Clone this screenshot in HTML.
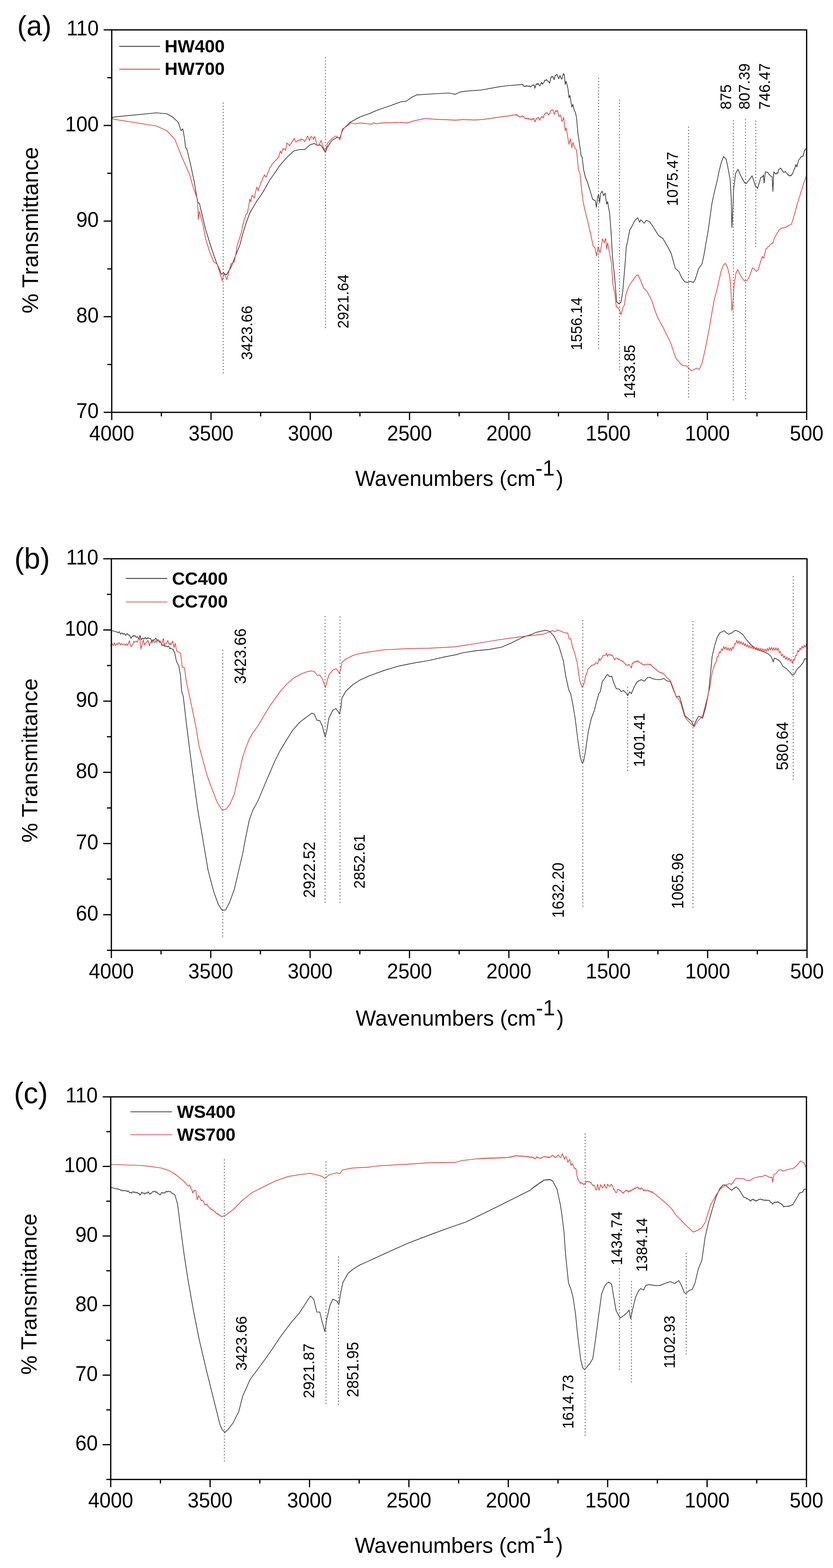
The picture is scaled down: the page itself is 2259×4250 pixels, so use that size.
<!DOCTYPE html><html><head><meta charset="utf-8"><title>FTIR spectra</title><style>html,body{margin:0;padding:0;background:#fff}svg{display:block}text{font-family:'Liberation Sans', Arial, sans-serif}</style></head><body>
<svg width="2259" height="4250" viewBox="0 0 2259 4250">
<rect width="2259" height="4250" fill="#fff"/>
<g><path d="M303.1,318.9 L312.4,316.8 L424.2,305.9 L452.2,308.4 L467.7,316.8 L483.2,331.4 L491.0,354.0 L495.7,349.4 L500.3,374.2 L503.4,400.6 L506.5,402.2 L517.4,448.8 L526.7,492.2 L536.0,548.1 L540.7,551.2 L557.8,622.7 L573.3,672.4 L587.3,712.7 L601.2,743.8 L605.9,739.1 L613.7,745.3 L626.1,725.2 L650.9,663.0 L658.2,634.8 L666.3,607.6 L677.2,577.7 L685.3,564.1 L696.2,545.1 L704.3,534.2 L717.9,512.5 L731.5,488.0 L745.1,469.0 L758.7,448.6 L777.7,426.9 L796.7,409.2 L813.0,405.2 L826.6,405.2 L840.2,392.9 L852.4,388.9 L859.2,393.5 L870.1,393.5 L876.9,403.8 L882.3,413.3 L887.8,398.4 L900.0,380.7 L913.6,372.6 L921.7,373.9 L929.9,350.8 L948.9,331.8 L976.1,316.8 L1000.0,308.7 L1025.6,297.6 L1056.3,287.4 L1086.9,275.9 L1102.3,274.1 L1117.6,263.1 L1130.4,257.2 L1179.0,254.1 L1217.3,252.1 L1225.0,253.6 L1234.0,255.7 L1248.0,249.5 L1263.4,247.0 L1306.8,243.9 L1350.0,235.7 L1375.6,232.4 L1417.8,229.0 L1420.0,233.3 L1421.6,234.1 L1422.3,233.2 L1424.6,234.7 L1426.7,232.9 L1426.9,231.6 L1429.2,234.1 L1431.5,232.7 L1433.8,234.7 L1436.0,232.5 L1436.9,234.1 L1438.3,235.6 L1439.5,235.4 L1440.6,233.6 L1442.9,232.4 L1444.6,230.3 L1445.2,229.9 L1447.5,231.5 L1448.4,230.3 L1449.8,236.2 L1450.2,239.3 L1452.1,234.1 L1453.6,228.5 L1454.4,227.2 L1456.7,229.2 L1459.0,225.7 L1460.0,227.0 L1461.2,230.1 L1463.5,231.7 L1463.8,232.9 L1465.8,229.7 L1468.1,224.4 L1468.9,223.4 L1470.4,227.3 L1471.5,228.5 L1472.7,225.0 L1475.0,223.8 L1477.3,217.2 L1477.8,217.5 L1479.6,218.3 L1481.9,215.7 L1483.0,216.8 L1484.2,219.4 L1486.5,219.4 L1488.8,223.8 L1490.6,225.2 L1491.0,222.9 L1493.3,214.1 L1494.5,208.6 L1495.6,207.3 L1497.9,209.1 L1499.6,207.3 L1500.2,208.2 L1502.5,215.7 L1502.9,215.7 L1504.8,207.7 L1506.0,204.0 L1507.1,204.9 L1509.4,201.7 L1511.1,202.2 L1511.7,205.3 L1514.0,210.4 L1514.9,213.7 L1516.2,211.5 L1518.5,204.4 L1518.8,204.7 L1520.8,210.7 L1523.1,212.8 L1523.4,215.0 L1525.4,209.3 L1527.7,199.6 L1527.7,199.1 L1530.0,202.7 L1530.3,202.2 L1532.8,229.0 L1535.4,220.1 L1540.5,241.8 L1543.0,264.8 L1545.6,258.4 L1550.7,290.4 L1553.3,282.7 L1557.1,298.1 L1559.7,303.2 L1563.5,318.5 L1567.3,362.0 L1570.4,382.4 L1576.3,423.4 L1578.8,425.9 L1582.7,460.0 L1586.7,477.4 L1593.5,495.1 L1600.3,516.8 L1607.1,539.9 L1611.1,542.7 L1614.0,543.0 L1617.4,561.7 L1620.7,533.2 L1623.4,527.7 L1626.1,549.5 L1628.8,525.0 L1632.9,518.2 L1637.0,530.4 L1641.0,523.6 L1645.1,553.5 L1647.8,546.7 L1653.3,579.3 L1657.3,631.0 L1661.3,700.0 L1666.8,751.2 L1672.2,818.0 L1677.6,822.7 L1683.9,819.6 L1688.5,793.2 L1693.2,738.8 L1696.3,700.0 L1698.1,671.7 L1702.2,652.7 L1707.6,624.2 L1713.0,614.7 L1721.2,598.4 L1729.3,590.2 L1734.8,602.4 L1737.5,595.7 L1747.0,605.2 L1752.4,597.0 L1762.0,601.1 L1772.8,617.4 L1786.4,639.1 L1797.3,645.9 L1810.9,669.0 L1820.4,688.0 L1831.3,727.4 L1840.8,735.6 L1848.9,753.3 L1857.1,764.1 L1865.2,765.5 L1872.0,762.8 L1880.2,765.5 L1885.3,757.6 L1894.5,728.5 L1903.8,715.3 L1909.0,691.5 L1914.3,659.9 L1920.9,622.9 L1930.2,554.3 L1936.8,522.6 L1944.7,490.9 L1950.0,464.5 L1956.6,438.1 L1962.4,424.4 L1969.2,431.5 L1975.0,459.2 L1980.3,488.3 L1983.0,538.4 L1984.8,616.3 L1986.9,578.0 L1989.6,512.0 L1994.9,469.8 L2001.5,459.2 L2009.4,477.7 L2019.9,496.2 L2023.9,497.5 L2033.1,485.6 L2039.7,476.4 L2047.7,501.5 L2054.3,510.7 L2063.5,480.3 L2068.8,479.0 L2070.1,473.7 L2072.2,496.2 L2075.4,465.8 L2082.0,467.1 L2088.6,476.4 L2093.9,479.0 L2096.0,518.6 L2098.6,465.8 L2100.0,468.5 L2102.3,469.4 L2103.1,471.1 L2104.6,471.9 L2106.9,468.1 L2109.2,470.1 L2109.7,468.4 L2111.0,460.5 L2111.5,459.3 L2113.8,459.1 L2116.1,455.6 L2117.6,456.0 L2118.4,457.9 L2120.7,460.7 L2123.0,465.9 L2124.2,467.1 L2125.3,466.1 L2127.6,466.7 L2129.5,464.5 L2129.9,464.4 L2132.2,468.9 L2134.5,470.1 L2136.8,474.7 L2137.4,475.0 L2139.1,473.8 L2141.4,477.3 L2143.6,475.1 L2144.0,476.4 L2145.9,476.0 L2148.2,471.0 L2149.3,471.1 L2150.5,468.5 L2152.8,460.7 L2154.6,457.9 L2155.1,457.3 L2157.4,447.9 L2158.5,446.0 L2159.7,450.6 L2161.2,452.6 L2162.0,448.5 L2164.3,439.9 L2165.1,435.4 L2166.6,433.0 L2168.9,431.5 L2171.2,425.9 L2173.1,424.9 L2173.5,425.6 L2175.8,422.9 L2178.1,423.4 L2178.4,422.2 L2180.4,412.9 L2182.3,406.4 L2182.7,407.3 L2185.0,403.5 L2186.3,404.3" fill="none" stroke="#353535" stroke-width="1.9" stroke-linejoin="round" stroke-linecap="round"/><path d="M303.1,320.8 L307.8,323.0 L424.2,341.6 L452.2,354.0 L473.9,377.3 L492.5,423.9 L514.3,473.6 L522.0,501.6 L528.3,520.2 L536.0,541.9 L537.6,594.7 L540.7,573.0 L550.0,607.1 L557.8,647.5 L567.1,678.6 L579.5,709.6 L588.8,715.8 L602.8,760.9 L607.5,740.7 L615.2,757.8 L626.1,715.8 L635.4,709.6 L640.0,685.9 L642.5,669.8 L644.7,659.9 L645.0,660.0 L647.5,651.2 L650.0,645.7 L650.0,647.4 L652.5,635.2 L655.0,629.9 L655.4,626.6 L657.5,614.5 L659.5,604.9 L660.0,605.2 L662.5,593.8 L665.0,589.2 L666.3,583.2 L667.5,580.5 L670.0,578.9 L671.7,575.0 L672.5,568.6 L675.0,555.6 L677.2,539.7 L677.5,539.9 L679.9,546.5 L680.0,547.0 L682.5,534.6 L684.0,528.8 L685.0,531.2 L687.5,533.6 L689.4,537.0 L690.0,535.0 L692.5,522.7 L695.0,513.6 L696.2,507.1 L697.5,508.7 L700.0,517.3 L700.3,516.6 L702.5,508.4 L705.0,503.9 L707.5,494.3 L708.4,493.5 L710.0,491.7 L712.5,482.5 L715.0,479.6 L716.6,474.5 L717.5,474.2 L720.0,479.3 L722.0,479.9 L722.5,477.4 L725.0,473.8 L727.5,465.2 L730.0,460.6 L731.5,455.4 L732.5,453.4 L735.0,451.5 L737.5,444.7 L739.7,443.2 L740.0,443.5 L742.5,439.0 L745.0,438.2 L747.5,434.0 L750.0,433.3 L752.5,428.7 L755.0,427.8 L756.0,425.5 L757.5,417.9 L760.0,411.2 L760.1,409.2 L762.5,413.6 L762.8,416.0 L765.0,410.6 L766.8,403.8 L767.5,402.3 L770.0,405.5 L772.5,403.8 L775.0,406.5 L775.0,407.5 L777.5,388.1 L777.7,387.5 L780.0,390.2 L782.5,390.6 L785.0,395.3 L785.9,394.3 L787.5,391.1 L790.0,388.8 L792.5,382.6 L795.0,381.8 L797.5,375.1 L798.1,375.3 L800.0,381.2 L802.2,384.8 L802.5,384.0 L805.0,384.3 L807.5,380.2 L810.0,381.8 L812.5,378.1 L813.0,379.3 L815.0,380.1 L817.5,376.5 L818.5,376.6 L820.0,378.5 L822.5,378.5 L825.0,382.9 L826.6,383.4 L827.5,380.6 L830.0,377.8 L832.5,371.8 L834.8,368.5 L835.0,370.9 L837.5,375.4 L838.9,380.7 L840.0,379.3 L842.5,371.7 L844.3,369.8 L845.0,371.6 L847.5,372.4 L849.7,376.6 L850.0,377.8 L852.5,371.4 L853.8,369.8 L855.0,375.9 L857.5,384.4 L859.2,392.9 L860.0,394.4 L866.0,391.6 L870.7,380.7 L875.5,395.7 L882.3,412.0 L887.8,388.9 L897.3,378.0 L910.9,368.5 L919.0,373.9 L921.7,379.3 L928.5,349.5 L938.0,344.0 L951.6,333.2 L962.5,335.9 L976.1,333.2 L989.7,334.5 L1000.0,335.9 L1000.0,336.2 L1002.5,335.6 L1005.0,337.1 L1007.5,335.7 L1008.9,336.5 L1010.0,336.2 L1012.5,333.4 L1014.1,332.9 L1015.0,334.1 L1017.5,333.6 L1020.0,335.8 L1020.5,335.5 L1022.5,334.6 L1025.0,335.2 L1027.5,334.2 L1030.0,334.6 L1032.5,333.2 L1035.0,334.2 L1037.5,332.4 L1038.4,332.9 L1040.0,333.7 L1042.5,332.0 L1045.0,333.6 L1047.5,332.4 L1050.0,333.5 L1052.5,332.1 L1055.0,333.0 L1057.5,331.7 L1060.0,333.3 L1062.5,332.1 L1065.0,333.0 L1067.5,331.9 L1070.0,333.1 L1072.5,331.5 L1075.0,332.5 L1077.5,331.6 L1080.0,332.4 L1082.5,331.7 L1085.0,332.8 L1086.9,331.9 L1087.5,331.1 L1090.0,332.9 L1092.5,331.9 L1095.0,333.0 L1097.5,332.1 L1100.0,333.7 L1102.5,332.4 L1104.8,333.4 L1105.0,334.0 L1107.5,331.8 L1110.0,332.3 L1112.5,330.1 L1115.0,330.4 L1115.1,329.6 L1117.5,328.5 L1120.0,329.0 L1122.5,327.3 L1125.0,327.5 L1127.5,325.8 L1127.8,326.3 L1130.0,326.4 L1132.5,324.9 L1135.0,325.2 L1137.5,323.7 L1140.0,324.4 L1140.6,323.7 L1142.5,322.8 L1145.0,323.6 L1147.5,321.3 L1150.0,322.2 L1152.1,321.1 L1152.5,320.5 L1155.0,322.0 L1157.5,321.1 L1160.0,322.2 L1162.5,321.1 L1165.0,322.8 L1167.5,321.9 L1170.0,323.0 L1172.5,322.2 L1175.0,323.3 L1177.5,322.5 L1179.0,323.2 L1180.0,324.0 L1182.5,322.9 L1185.0,324.1 L1187.5,323.2 L1190.0,324.4 L1192.5,323.3 L1195.0,324.5 L1197.5,323.3 L1200.0,324.8 L1202.5,323.8 L1205.0,324.7 L1207.5,323.8 L1210.0,324.9 L1212.5,323.9 L1215.0,325.2 L1217.5,324.3 L1220.0,325.5 L1222.5,324.3 L1225.0,326.1 L1227.5,324.5 L1230.0,326.4 L1232.5,325.0 L1235.0,326.4 L1235.2,325.7 L1237.5,325.2 L1240.0,325.8 L1242.5,324.4 L1245.0,325.8 L1247.5,324.0 L1250.0,325.1 L1252.5,323.6 L1255.0,324.7 L1255.7,324.2 L1257.5,323.4 L1260.0,324.7 L1262.5,323.9 L1265.0,325.0 L1267.5,324.2 L1270.0,325.4 L1272.5,324.2 L1275.0,325.1 L1277.5,324.1 L1280.0,325.7 L1282.5,324.5 L1285.0,325.8 L1287.5,324.7 L1288.9,325.2 L1290.0,325.7 L1292.5,324.4 L1295.0,325.3 L1297.5,324.1 L1300.0,325.0 L1302.5,323.8 L1305.0,324.2 L1307.5,323.2 L1310.0,324.0 L1312.5,322.9 L1315.0,323.9 L1317.5,322.1 L1319.6,322.7 L1320.0,323.0 L1322.5,321.5 L1325.0,322.7 L1327.5,320.9 L1330.0,321.5 L1332.5,320.2 L1335.0,320.7 L1337.5,319.4 L1340.0,320.4 L1342.5,318.5 L1345.0,319.4 L1347.5,318.1 L1350.0,318.1 L1350.0,318.5 L1352.5,317.1 L1355.0,317.8 L1357.5,316.7 L1360.0,317.3 L1362.5,315.8 L1365.0,316.6 L1367.5,315.2 L1370.0,315.7 L1372.5,314.4 L1375.0,315.1 L1377.5,313.8 L1380.0,314.7 L1382.5,313.0 L1385.0,314.0 L1387.5,312.0 L1390.0,312.9 L1392.5,311.4 L1395.0,312.3 L1397.5,311.0 L1400.0,311.6 L1400.0,313.0 L1401.1,310.9 L1402.3,310.5 L1404.6,314.8 L1406.8,314.4 L1409.1,317.0 L1410.1,317.2 L1411.4,316.1 L1413.7,317.2 L1416.0,313.5 L1417.8,314.7 L1418.2,316.9 L1420.5,316.3 L1422.8,320.5 L1424.2,321.1 L1425.1,320.3 L1427.4,322.5 L1429.6,319.8 L1431.9,323.3 L1434.2,320.1 L1434.4,321.6 L1436.5,323.5 L1438.8,322.5 L1439.5,324.9 L1441.1,325.5 L1443.3,321.8 L1445.6,323.8 L1447.2,321.1 L1447.9,321.1 L1450.2,329.1 L1451.0,330.0 L1452.5,324.9 L1454.7,322.9 L1454.8,321.1 L1457.0,319.4 L1459.3,320.5 L1460.0,318.5 L1461.6,320.6 L1463.8,325.7 L1463.9,326.2 L1466.1,319.7 L1468.4,317.5 L1468.9,315.5 L1470.7,316.5 L1472.7,319.8 L1473.0,320.1 L1475.3,312.2 L1477.5,309.6 L1477.8,307.8 L1479.8,305.9 L1482.1,307.4 L1484.2,305.7 L1484.4,305.1 L1486.7,310.3 L1488.1,312.1 L1488.9,308.8 L1491.2,308.0 L1493.5,300.6 L1495.7,298.1 L1495.8,299.3 L1498.1,297.6 L1499.6,298.6 L1500.4,301.8 L1502.6,308.2 L1502.9,310.3 L1504.9,305.7 L1506.0,300.6 L1507.2,299.6 L1509.5,303.2 L1509.8,301.9 L1511.8,299.3 L1512.4,300.6 L1514.0,309.0 L1515.7,316.5 L1516.3,314.1 L1518.6,314.5 L1520.0,312.1 L1520.9,314.3 L1523.2,326.4 L1524.4,330.0 L1525.4,326.3 L1527.7,322.3 L1528.5,318.5 L1530.0,329.3 L1532.8,354.3 L1535.4,346.7 L1543.0,391.4 L1546.9,376.1 L1550.7,400.3 L1553.8,386.3 L1558.4,400.3 L1563.5,406.7 L1568.6,460.0 L1569.0,459.8 L1573.1,472.0 L1577.2,514.1 L1581.3,546.7 L1586.7,571.2 L1593.5,598.4 L1601.6,633.7 L1608.4,666.3 L1613.0,671.0 L1617.9,693.5 L1622.0,669.0 L1627.4,685.3 L1634.2,647.3 L1638.3,658.2 L1642.4,645.9 L1645.1,674.5 L1647.8,658.2 L1653.3,688.0 L1658.2,712.4 L1662.1,769.9 L1666.8,793.2 L1671.4,832.0 L1674.5,832.0 L1680.7,841.3 L1683.9,853.0 L1690.0,832.0 L1693.2,827.3 L1697.0,800.9 L1700.9,787.7 L1707.1,773.0 L1713.4,763.7 L1719.6,755.1 L1725.8,746.6 L1730.4,745.0 L1734.3,754.3 L1736.6,758.2 L1746.0,782.3 L1753.7,788.5 L1767.7,814.9 L1777.0,844.4 L1786.3,866.1 L1798.8,888.7 L1808.2,908.2 L1819.0,929.9 L1832.6,970.7 L1848.9,989.7 L1862.5,992.4 L1874.7,1004.6 L1881.5,1001.9 L1889.2,997.8 L1895.8,1001.8 L1903.8,984.6 L1911.7,950.3 L1922.2,897.5 L1930.2,850.0 L1936.8,813.0 L1944.7,784.0 L1955.2,736.4 L1961.8,718.0 L1967.1,714.0 L1972.4,723.2 L1979.0,749.6 L1981.7,776.0 L1984.8,842.0 L1986.9,828.8 L1990.9,770.8 L1996.2,739.1 L2000.9,731.1 L2009.4,749.6 L2018.6,761.5 L2026.5,760.2 L2034.5,744.4 L2040.5,725.9 L2045.0,728.5 L2051.1,735.9 L2056.4,731.1 L2060.0,719.1 L2062.2,710.0 L2062.5,708.8 L2065.0,702.8 L2067.5,694.9 L2067.5,695.5 L2070.0,699.1 L2071.4,699.5 L2072.5,693.5 L2075.0,683.9 L2076.7,675.7 L2077.5,674.3 L2080.0,672.9 L2082.5,669.1 L2085.0,668.6 L2087.5,663.9 L2088.6,663.8 L2090.0,663.0 L2092.5,659.5 L2095.0,659.7 L2096.5,657.2 L2097.5,653.3 L2100.0,646.4 L2100.5,644.0 L2102.5,640.1 L2105.0,637.0 L2107.5,631.8 L2110.0,628.7 L2112.3,624.2 L2112.5,623.4 L2115.0,622.7 L2117.5,619.1 L2118.9,618.9 L2120.0,619.2 L2122.5,617.5 L2125.0,618.0 L2127.5,615.8 L2130.0,616.6 L2132.1,615.0 L2132.5,614.3 L2135.0,614.4 L2137.5,611.3 L2140.0,611.2 L2142.5,608.9 L2145.0,608.7 L2146.7,607.1 L2147.5,603.5 L2150.0,596.8 L2152.5,586.5 L2154.6,580.7 L2155.0,580.4 L2157.5,569.2 L2160.0,561.4 L2162.5,550.8 L2162.5,551.6 L2165.0,544.5 L2167.5,534.5 L2169.1,530.5 L2170.0,528.2 L2172.5,518.5 L2175.0,512.6 L2177.5,502.6 L2179.7,496.2 L2180.0,495.8 L2186.3,477.7" fill="none" stroke="#df4040" stroke-width="1.9" stroke-linejoin="round" stroke-linecap="round"/><line x1="605.3" y1="278" x2="605.3" y2="1013" stroke="#4e4e4e" stroke-width="2.3" stroke-dasharray="2.8 5.70"/><line x1="882.5" y1="155.5" x2="882.5" y2="891" stroke="#4e4e4e" stroke-width="2.3" stroke-dasharray="2.8 5.70"/><line x1="1623.2" y1="211" x2="1623.2" y2="945" stroke="#4e4e4e" stroke-width="2.3" stroke-dasharray="2.8 5.70"/><line x1="1680" y1="270" x2="1680" y2="1003" stroke="#4e4e4e" stroke-width="2.3" stroke-dasharray="2.8 5.70"/><line x1="1867.2" y1="343.5" x2="1867.2" y2="1078" stroke="#4e4e4e" stroke-width="2.3" stroke-dasharray="2.8 5.70"/><line x1="1988.7" y1="325.8" x2="1988.7" y2="1085" stroke="#4e4e4e" stroke-width="2.3" stroke-dasharray="2.8 5.70"/><line x1="2021.8" y1="323" x2="2021.8" y2="1082" stroke="#4e4e4e" stroke-width="2.3" stroke-dasharray="2.8 5.70"/><line x1="2049.5" y1="326.7" x2="2049.5" y2="669" stroke="#4e4e4e" stroke-width="2.3" stroke-dasharray="2.8 5.70"/><text transform="translate(684.0,975.2) rotate(-90) scale(1,1.05)" font-size="40.6">3423.66</text><text transform="translate(944.9,890.3) rotate(-90) scale(1,1.05)" font-size="40.5">2921.64</text><text transform="translate(1577.8,949.3) rotate(-90) scale(1,1.05)" font-size="39.6">1556.14</text><text transform="translate(1722.2,1080.4) rotate(-90) scale(1,1.05)" font-size="40.4">1433.85</text><text transform="translate(1837.8,558.2) rotate(-90) scale(1,1.05)" font-size="40.6">1075.47</text><text transform="translate(1983.0,296.7) rotate(-90) scale(1,1.05)" font-size="40.6">875</text><text transform="translate(2033.4,296.7) rotate(-90) scale(1,1.05)" font-size="40.9">807.39</text><text transform="translate(2088.3,297.0) rotate(-90) scale(1,1.05)" font-size="41.1">746.47</text><rect x="303.0" y="81.0" width="1884.5" height="1036.6" fill="none" stroke="#000" stroke-width="3.4"/><line x1="303.0" y1="1117.6" x2="303.0" y2="1138.6" stroke="#000" stroke-width="3.3"/><text transform="translate(303.0,1193.8) scale(1,1.05)" font-size="54.8" text-anchor="middle">4000</text><line x1="437.6" y1="1117.6" x2="437.6" y2="1128.6" stroke="#000" stroke-width="3.3"/><line x1="572.2" y1="1117.6" x2="572.2" y2="1138.6" stroke="#000" stroke-width="3.3"/><text transform="translate(572.2,1193.8) scale(1,1.05)" font-size="54.8" text-anchor="middle">3500</text><line x1="706.8" y1="1117.6" x2="706.8" y2="1128.6" stroke="#000" stroke-width="3.3"/><line x1="841.4" y1="1117.6" x2="841.4" y2="1138.6" stroke="#000" stroke-width="3.3"/><text transform="translate(841.4,1193.8) scale(1,1.05)" font-size="54.8" text-anchor="middle">3000</text><line x1="976.0" y1="1117.6" x2="976.0" y2="1128.6" stroke="#000" stroke-width="3.3"/><line x1="1110.6" y1="1117.6" x2="1110.6" y2="1138.6" stroke="#000" stroke-width="3.3"/><text transform="translate(1110.6,1193.8) scale(1,1.05)" font-size="54.8" text-anchor="middle">2500</text><line x1="1245.2" y1="1117.6" x2="1245.2" y2="1128.6" stroke="#000" stroke-width="3.3"/><line x1="1379.9" y1="1117.6" x2="1379.9" y2="1138.6" stroke="#000" stroke-width="3.3"/><text transform="translate(1379.9,1193.8) scale(1,1.05)" font-size="54.8" text-anchor="middle">2000</text><line x1="1514.5" y1="1117.6" x2="1514.5" y2="1128.6" stroke="#000" stroke-width="3.3"/><line x1="1649.1" y1="1117.6" x2="1649.1" y2="1138.6" stroke="#000" stroke-width="3.3"/><text transform="translate(1649.1,1193.8) scale(1,1.05)" font-size="54.8" text-anchor="middle">1500</text><line x1="1783.7" y1="1117.6" x2="1783.7" y2="1128.6" stroke="#000" stroke-width="3.3"/><line x1="1918.3" y1="1117.6" x2="1918.3" y2="1138.6" stroke="#000" stroke-width="3.3"/><text transform="translate(1918.3,1193.8) scale(1,1.05)" font-size="54.8" text-anchor="middle">1000</text><line x1="2052.9" y1="1117.6" x2="2052.9" y2="1128.6" stroke="#000" stroke-width="3.3"/><line x1="2187.5" y1="1117.6" x2="2187.5" y2="1138.6" stroke="#000" stroke-width="3.3"/><text transform="translate(2187.5,1193.8) scale(1,1.05)" font-size="54.8" text-anchor="middle">500</text><line x1="281.0" y1="1117.6" x2="303.0" y2="1117.6" stroke="#000" stroke-width="3.3"/><text transform="translate(267.8,1133.0) scale(1,1.05)" font-size="54.8" text-anchor="end">70</text><line x1="281.0" y1="858.4" x2="303.0" y2="858.4" stroke="#000" stroke-width="3.3"/><text transform="translate(267.8,873.8) scale(1,1.05)" font-size="54.8" text-anchor="end">80</text><line x1="281.0" y1="599.3" x2="303.0" y2="599.3" stroke="#000" stroke-width="3.3"/><text transform="translate(267.8,614.7) scale(1,1.05)" font-size="54.8" text-anchor="end">90</text><line x1="281.0" y1="340.1" x2="303.0" y2="340.1" stroke="#000" stroke-width="3.3"/><text transform="translate(267.8,355.5) scale(1,1.05)" font-size="54.8" text-anchor="end">100</text><line x1="281.0" y1="81.0" x2="303.0" y2="81.0" stroke="#000" stroke-width="3.3"/><text transform="translate(267.8,96.4) scale(1,1.05)" font-size="54.8" text-anchor="end">110</text><line x1="291.0" y1="988.0" x2="303.0" y2="988.0" stroke="#000" stroke-width="3.3"/><line x1="291.0" y1="728.9" x2="303.0" y2="728.9" stroke="#000" stroke-width="3.3"/><line x1="291.0" y1="469.7" x2="303.0" y2="469.7" stroke="#000" stroke-width="3.3"/><line x1="291.0" y1="210.6" x2="303.0" y2="210.6" stroke="#000" stroke-width="3.3"/><text x="46.8" y="96.0" font-size="75.9">(a)</text><text transform="translate(103.1,849.6) rotate(-90)" font-size="60.6">% Transmittance</text><text x="963.3" y="1316.6" font-size="58.5">Wavenumbers (cm<tspan dy="-27.5">-1</tspan><tspan dx="4.3" dy="27.5">)</tspan></text></g>
<g><path d="M301.6,1708.6 L318.6,1713.3 L320.0,1715.5 L323.5,1712.1 L327.0,1718.9 L330.6,1715.1 L334.1,1719.5 L334.2,1718.0 L337.6,1717.5 L341.1,1722.2 L344.7,1717.3 L348.2,1721.4 L349.7,1721.1 L351.7,1721.9 L355.2,1730.4 L355.9,1728.8 L358.8,1725.0 L362.1,1722.6 L362.3,1724.8 L365.8,1722.8 L369.3,1727.6 L372.9,1725.9 L376.4,1730.8 L377.6,1730.4 L379.2,1722.6 L379.9,1722.8 L383.4,1734.0 L383.9,1733.5 L387.0,1729.6 L390.5,1732.2 L393.2,1728.8 L394.0,1727.8 L397.5,1732.1 L401.0,1728.3 L404.6,1731.2 L405.6,1730.4 L408.1,1730.2 L411.6,1738.8 L411.8,1736.6 L415.1,1734.4 L418.7,1734.9 L422.2,1729.8 L424.2,1731.9 L425.7,1735.6 L429.2,1733.8 L432.8,1741.1 L433.5,1739.7 L436.3,1742.0 L438.2,1747.5 L439.8,1749.4 L443.3,1747.8 L446.0,1750.6 L446.9,1752.4 L450.4,1750.5 L453.9,1753.6 L455.3,1752.1 L457.4,1751.1 L461.0,1759.2 L461.5,1756.8 L464.5,1757.4 L468.0,1760.4 L469.3,1759.9 L473.9,1770.7 L478.6,1792.5 L484.8,1804.9 L489.4,1829.8 L492.5,1873.2 L497.2,1888.8 L505.0,1957.1 L514.3,2031.6 L523.6,2103.0 L536.0,2193.1 L548.4,2264.5 L564.0,2357.7 L579.5,2416.7 L591.9,2450.9 L602.8,2467.9 L612.1,2466.4 L623.0,2444.7 L635.4,2410.5 L650.0,2348.4 L658.2,2313.4 L666.3,2269.9 L675.8,2223.7 L685.3,2196.5 L698.9,2172.1 L712.5,2139.5 L728.8,2101.4 L745.1,2063.4 L758.7,2036.2 L775.0,2009.0 L794.0,1979.1 L813.0,1957.4 L834.8,1941.1 L845.7,1932.9 L852.4,1935.7 L859.2,1952.0 L867.4,1953.3 L874.2,1968.3 L881.8,1998.2 L886.4,1979.1 L891.8,1946.5 L902.7,1924.8 L910.9,1920.7 L916.3,1927.5 L920.4,1935.1 L924.5,1919.3 L927.2,1892.2 L938.0,1873.2 L957.1,1855.5 L976.1,1843.3 L1000.0,1832.4 L1040.9,1817.5 L1081.8,1805.2 L1122.7,1797.0 L1163.6,1790.1 L1204.5,1780.7 L1237.3,1774.5 L1253.6,1769.6 L1286.3,1764.3 L1327.3,1760.2 L1360.0,1754.1 L1388.6,1741.8 L1417.3,1727.5 L1441.8,1719.3 L1454.0,1714.0 L1466.3,1711.1 L1478.6,1708.3 L1490.9,1711.1 L1503.1,1725.5 L1515.4,1750.0 L1527.7,1790.9 L1534.1,1831.3 L1542.2,1869.3 L1547.7,1880.2 L1553.1,1907.4 L1559.9,1948.2 L1566.7,2002.5 L1573.5,2051.4 L1578.4,2067.7 L1582.2,2065.0 L1587.1,2040.5 L1595.2,1983.5 L1603.4,1948.2 L1611.5,1926.4 L1617.0,1904.7 L1623.8,1880.2 L1627.8,1874.8 L1633.3,1847.6 L1641.4,1836.7 L1644.1,1831.3 L1648.2,1828.0 L1652.3,1834.0 L1659.1,1832.7 L1663.2,1847.6 L1671.3,1866.6 L1679.5,1868.0 L1684.9,1874.8 L1690.3,1871.5 L1697.1,1877.5 L1702.6,1885.7 L1708.0,1874.8 L1712.1,1880.2 L1720.2,1861.2 L1728.4,1847.6 L1739.2,1842.2 L1747.4,1846.3 L1755.5,1836.7 L1762.3,1835.4 L1769.1,1839.5 L1780.0,1841.6 L1790.9,1842.2 L1800.4,1838.9 L1807.2,1844.9 L1818.0,1847.6 L1826.1,1869.3 L1834.3,1888.4 L1842.5,1887.0 L1847.8,1904.7 L1857.4,1940.0 L1867.0,1948.2 L1875.4,1954.9 L1880.9,1968.5 L1886.3,1956.3 L1894.5,1941.3 L1899.9,1942.7 L1905.3,1946.8 L1913.5,1918.2 L1921.6,1877.5 L1927.1,1823.1 L1931.2,1779.6 L1938.0,1749.7 L1944.7,1728.0 L1951.5,1715.7 L1963.8,1709.5 L1970.6,1715.7 L1976.0,1719.3 L1984.2,1715.7 L1993.7,1708.4 L2003.2,1711.6 L2014.1,1719.8 L2024.9,1734.7 L2035.8,1747.0 L2046.7,1756.5 L2057.6,1761.9 L2071.1,1766.8 L2082.0,1771.4 L2091.5,1779.6 L2097.0,1794.5 L2099.7,1783.7 L2109.2,1787.8 L2116.0,1793.2 L2122.8,1805.4 L2133.7,1813.6 L2143.2,1823.1 L2148.6,1829.9 L2154.0,1827.2 L2160.8,1814.9 L2169.0,1806.8 L2177.1,1797.3 L2182.6,1785.0 L2186.7,1786.4" fill="none" stroke="#353535" stroke-width="1.9" stroke-linejoin="round" stroke-linecap="round"/><path d="M300.0,1749.8 L301.6,1746.5 L303.3,1742.1 L306.6,1750.0 L309.9,1742.7 L313.2,1750.0 L316.5,1744.6 L319.8,1746.9 L323.1,1741.7 L326.4,1747.8 L329.7,1743.8 L331.1,1745.9 L333.0,1747.5 L336.3,1745.3 L339.6,1749.1 L342.9,1744.8 L346.1,1749.5 L346.6,1749.0 L349.4,1740.4 L351.2,1736.6 L352.7,1746.6 L355.9,1753.7 L356.0,1751.4 L359.3,1748.7 L362.1,1741.2 L362.6,1738.6 L365.9,1741.1 L369.2,1737.5 L371.4,1739.7 L372.5,1740.6 L375.8,1731.2 L379.1,1733.9 L379.2,1730.4 L382.3,1759.9 L382.4,1756.5 L385.7,1746.9 L388.5,1735.0 L389.0,1735.4 L392.3,1748.8 L393.2,1747.5 L395.6,1741.9 L398.9,1739.3 L399.4,1736.6 L402.2,1737.2 L405.5,1751.2 L405.6,1747.5 L408.8,1740.2 L411.8,1739.7 L412.1,1742.8 L415.4,1736.1 L418.7,1741.5 L422.0,1736.8 L424.2,1738.1 L425.3,1741.1 L428.6,1734.0 L431.9,1739.9 L433.5,1736.6 L435.1,1738.8 L438.2,1747.5 L438.4,1750.5 L441.7,1733.5 L443.5,1730.4 L445.0,1744.7 L446.0,1749.0 L448.3,1744.7 L451.6,1743.6 L454.9,1736.2 L455.3,1736.6 L458.2,1745.1 L461.5,1747.5 L461.5,1743.1 L464.8,1746.5 L467.7,1738.1 L468.1,1737.8 L471.4,1752.9 L472.4,1755.2 L474.7,1744.5 L475.5,1744.3 L478.0,1758.9 L480.1,1766.1 L486.3,1767.6 L490.1,1772.3 L494.1,1808.0 L500.3,1809.6 L505.0,1845.3 L514.3,1888.8 L523.6,1932.2 L532.9,1978.8 L539.1,2019.2 L548.4,2053.4 L560.9,2099.9 L573.3,2134.1 L588.8,2174.5 L602.8,2196.2 L613.7,2193.1 L623.0,2180.7 L635.4,2152.7 L650.0,2087.5 L658.2,2052.5 L666.3,2028.0 L675.8,2003.6 L685.3,1987.3 L698.9,1968.3 L715.2,1941.1 L731.5,1913.9 L745.1,1894.9 L758.7,1875.9 L777.7,1854.1 L796.7,1837.8 L818.5,1825.6 L834.8,1820.2 L844.3,1818.3 L852.4,1820.2 L860.6,1831.0 L867.4,1829.7 L874.2,1840.5 L882.3,1863.6 L886.4,1848.7 L891.8,1829.7 L902.7,1816.1 L910.3,1812.8 L915.8,1817.4 L920.4,1825.6 L924.5,1810.7 L927.2,1795.7 L938.0,1786.2 L957.1,1776.7 L976.1,1771.3 L1000.0,1767.2 L1040.9,1761.4 L1102.3,1758.2 L1163.6,1757.0 L1233.2,1753.3 L1286.3,1745.1 L1347.7,1734.9 L1409.1,1726.3 L1470.4,1719.3 L1490.9,1713.2 L1499.1,1709.1 L1505.2,1712.4 L1511.3,1707.5 L1519.5,1709.9 L1525.6,1713.2 L1534.1,1715.8 L1539.5,1715.8 L1543.6,1732.1 L1547.7,1730.8 L1553.1,1755.2 L1557.2,1766.1 L1565.3,1796.0 L1572.1,1844.9 L1578.4,1862.6 L1583.0,1855.8 L1588.4,1831.3 L1592.0,1823.0 L1594.5,1813.4 L1597.0,1811.8 L1599.5,1807.6 L1602.0,1807.1 L1604.5,1802.8 L1607.0,1803.9 L1609.5,1801.4 L1612.0,1802.2 L1614.6,1796.6 L1617.1,1796.3 L1619.6,1799.7 L1622.1,1796.1 L1624.6,1784.7 L1627.1,1790.5 L1629.6,1786.5 L1632.1,1784.0 L1634.6,1776.7 L1637.1,1776.9 L1639.6,1776.2 L1642.1,1775.7 L1644.6,1770.3 L1647.1,1779.4 L1649.6,1774.2 L1652.1,1775.6 L1654.7,1773.6 L1657.2,1777.2 L1659.7,1775.1 L1662.2,1779.0 L1664.7,1784.7 L1667.2,1789.0 L1669.7,1783.9 L1672.2,1785.0 L1674.7,1783.9 L1677.2,1788.0 L1679.7,1786.1 L1682.2,1790.5 L1684.7,1789.4 L1687.2,1793.0 L1689.7,1792.2 L1692.2,1797.4 L1694.7,1797.4 L1697.3,1802.8 L1699.8,1802.1 L1702.3,1804.1 L1704.8,1800.9 L1707.3,1802.1 L1709.8,1806.3 L1712.3,1811.0 L1714.8,1797.3 L1717.3,1798.5 L1719.8,1793.5 L1722.3,1795.3 L1724.8,1791.5 L1727.3,1794.4 L1729.8,1790.2 L1732.3,1795.1 L1734.8,1794.9 L1737.3,1798.3 L1739.9,1797.1 L1742.4,1801.7 L1744.9,1800.8 L1747.4,1803.7 L1749.9,1801.1 L1752.4,1801.9 L1754.9,1799.5 L1757.4,1801.3 L1759.9,1799.8 L1762.4,1802.7 L1764.9,1800.6 L1767.4,1805.8 L1769.9,1805.5 L1772.4,1810.8 L1774.9,1810.4 L1777.4,1814.7 L1780.0,1813.8 L1782.5,1818.8 L1785.0,1818.7 L1787.5,1822.3 L1790.0,1821.2 L1792.5,1824.5 L1795.0,1822.8 L1797.5,1827.1 L1800.0,1825.7 L1803.1,1830.0 L1809.9,1838.1 L1818.0,1844.9 L1826.1,1866.6 L1834.3,1889.7 L1839.8,1893.8 L1846.6,1907.4 L1856.1,1940.0 L1862.9,1950.9 L1882.2,1969.9 L1891.7,1954.9 L1905.3,1941.3 L1914.8,1904.6 L1924.4,1866.6 L1931.2,1823.1 L1938.0,1801.3 L1942.0,1795.1 L1945.0,1780.1 L1947.9,1780.2 L1950.9,1766.8 L1953.8,1769.3 L1956.8,1758.3 L1959.7,1763.0 L1962.7,1752.4 L1965.6,1759.7 L1968.6,1753.4 L1971.5,1762.2 L1974.5,1755.6 L1977.4,1763.5 L1980.4,1756.3 L1983.3,1764.3 L1986.3,1754.2 L1989.2,1758.1 L1992.2,1744.3 L1995.1,1745.4 L1998.1,1735.5 L2001.0,1743.9 L2004.0,1737.1 L2006.9,1745.5 L2009.9,1738.7 L2012.8,1747.5 L2015.8,1741.3 L2018.7,1750.4 L2021.7,1744.2 L2024.7,1753.3 L2027.6,1747.2 L2030.6,1755.8 L2033.5,1749.2 L2036.5,1757.8 L2039.4,1751.2 L2042.4,1759.7 L2045.3,1753.0 L2048.3,1761.4 L2051.2,1754.5 L2054.2,1762.9 L2057.1,1756.0 L2060.1,1764.3 L2063.0,1757.3 L2066.0,1765.3 L2068.9,1758.2 L2071.9,1766.3 L2074.8,1759.2 L2077.8,1766.5 L2080.7,1757.4 L2083.7,1763.6 L2086.6,1754.5 L2089.6,1762.0 L2092.5,1754.7 L2095.5,1762.7 L2098.4,1755.4 L2101.4,1763.0 L2104.3,1755.4 L2107.3,1763.0 L2110.3,1757.0 L2113.2,1769.0 L2116.2,1765.8 L2119.1,1777.8 L2122.1,1773.2 L2125.0,1783.0 L2128.0,1777.7 L2130.9,1787.5 L2133.9,1781.0 L2136.8,1789.7 L2139.8,1783.2 L2142.7,1792.4 L2145.7,1787.2 L2148.6,1797.2 L2151.6,1787.9 L2154.5,1790.3 L2157.5,1776.4 L2160.4,1777.1 L2163.4,1762.7 L2166.3,1767.0 L2169.3,1756.5 L2172.2,1761.1 L2175.2,1751.0 L2178.1,1757.3 L2181.1,1748.4 L2184.0,1754.7 L2187.0,1745.9" fill="none" stroke="#df4040" stroke-width="1.9" stroke-linejoin="round" stroke-linecap="round"/><line x1="604.1" y1="1761.7" x2="604.1" y2="2543" stroke="#4e4e4e" stroke-width="2.3" stroke-dasharray="2.8 6.20"/><line x1="881.6" y1="1670.2" x2="881.6" y2="2449" stroke="#4e4e4e" stroke-width="2.3" stroke-dasharray="2.8 6.20"/><line x1="922.2" y1="1670.7" x2="922.2" y2="2450" stroke="#4e4e4e" stroke-width="2.3" stroke-dasharray="2.8 6.20"/><line x1="1580.5" y1="1680.8" x2="1580.5" y2="2462" stroke="#4e4e4e" stroke-width="2.3" stroke-dasharray="2.8 6.20"/><line x1="1702.2" y1="1861.7" x2="1702.2" y2="2090.2" stroke="#4e4e4e" stroke-width="2.3" stroke-dasharray="2.8 6.20"/><line x1="1879.2" y1="1683.2" x2="1879.2" y2="2465" stroke="#4e4e4e" stroke-width="2.3" stroke-dasharray="2.8 6.20"/><line x1="2151" y1="1561.7" x2="2151" y2="2115.4" stroke="#4e4e4e" stroke-width="2.3" stroke-dasharray="2.8 6.20"/><text transform="translate(666.5,1854.0) rotate(-90) scale(1,1.05)" font-size="41.7">3423.66</text><text transform="translate(854.0,2433.5) rotate(-90) scale(1,1.05)" font-size="42.0">2922.52</text><text transform="translate(989.2,2408.5) rotate(-90) scale(1,1.05)" font-size="40.7">2852.61</text><text transform="translate(1529.3,2487.9) rotate(-90) scale(1,1.05)" font-size="41.5">1632.20</text><text transform="translate(1748.0,2079.2) rotate(-90) scale(1,1.05)" font-size="40.6">1401.41</text><text transform="translate(1852.7,2463.4) rotate(-90) scale(1,1.05)" font-size="41.9">1065.96</text><text transform="translate(2136.5,2087.8) rotate(-90) scale(1,1.05)" font-size="42.9">580.64</text><rect x="302.0" y="1514.5" width="1886.5" height="1061.3" fill="none" stroke="#000" stroke-width="3.4"/><line x1="302.0" y1="2575.8" x2="302.0" y2="2596.8" stroke="#000" stroke-width="3.3"/><text transform="translate(302.0,2652.0) scale(1,1.05)" font-size="54.8" text-anchor="middle">4000</text><line x1="436.8" y1="2575.8" x2="436.8" y2="2586.8" stroke="#000" stroke-width="3.3"/><line x1="571.5" y1="2575.8" x2="571.5" y2="2596.8" stroke="#000" stroke-width="3.3"/><text transform="translate(571.5,2652.0) scale(1,1.05)" font-size="54.8" text-anchor="middle">3500</text><line x1="706.2" y1="2575.8" x2="706.2" y2="2586.8" stroke="#000" stroke-width="3.3"/><line x1="841.0" y1="2575.8" x2="841.0" y2="2596.8" stroke="#000" stroke-width="3.3"/><text transform="translate(841.0,2652.0) scale(1,1.05)" font-size="54.8" text-anchor="middle">3000</text><line x1="975.8" y1="2575.8" x2="975.8" y2="2586.8" stroke="#000" stroke-width="3.3"/><line x1="1110.5" y1="2575.8" x2="1110.5" y2="2596.8" stroke="#000" stroke-width="3.3"/><text transform="translate(1110.5,2652.0) scale(1,1.05)" font-size="54.8" text-anchor="middle">2500</text><line x1="1245.2" y1="2575.8" x2="1245.2" y2="2586.8" stroke="#000" stroke-width="3.3"/><line x1="1380.0" y1="2575.8" x2="1380.0" y2="2596.8" stroke="#000" stroke-width="3.3"/><text transform="translate(1380.0,2652.0) scale(1,1.05)" font-size="54.8" text-anchor="middle">2000</text><line x1="1514.8" y1="2575.8" x2="1514.8" y2="2586.8" stroke="#000" stroke-width="3.3"/><line x1="1649.5" y1="2575.8" x2="1649.5" y2="2596.8" stroke="#000" stroke-width="3.3"/><text transform="translate(1649.5,2652.0) scale(1,1.05)" font-size="54.8" text-anchor="middle">1500</text><line x1="1784.2" y1="2575.8" x2="1784.2" y2="2586.8" stroke="#000" stroke-width="3.3"/><line x1="1919.0" y1="2575.8" x2="1919.0" y2="2596.8" stroke="#000" stroke-width="3.3"/><text transform="translate(1919.0,2652.0) scale(1,1.05)" font-size="54.8" text-anchor="middle">1000</text><line x1="2053.8" y1="2575.8" x2="2053.8" y2="2586.8" stroke="#000" stroke-width="3.3"/><line x1="2188.5" y1="2575.8" x2="2188.5" y2="2596.8" stroke="#000" stroke-width="3.3"/><text transform="translate(2188.5,2652.0) scale(1,1.05)" font-size="54.8" text-anchor="middle">500</text><line x1="280.0" y1="2479.3" x2="302.0" y2="2479.3" stroke="#000" stroke-width="3.3"/><text transform="translate(266.8,2494.7) scale(1,1.05)" font-size="54.8" text-anchor="end">60</text><line x1="280.0" y1="2286.4" x2="302.0" y2="2286.4" stroke="#000" stroke-width="3.3"/><text transform="translate(266.8,2301.8) scale(1,1.05)" font-size="54.8" text-anchor="end">70</text><line x1="280.0" y1="2093.4" x2="302.0" y2="2093.4" stroke="#000" stroke-width="3.3"/><text transform="translate(266.8,2108.8) scale(1,1.05)" font-size="54.8" text-anchor="end">80</text><line x1="280.0" y1="1900.4" x2="302.0" y2="1900.4" stroke="#000" stroke-width="3.3"/><text transform="translate(266.8,1915.8) scale(1,1.05)" font-size="54.8" text-anchor="end">90</text><line x1="280.0" y1="1707.5" x2="302.0" y2="1707.5" stroke="#000" stroke-width="3.3"/><text transform="translate(266.8,1722.9) scale(1,1.05)" font-size="54.8" text-anchor="end">100</text><line x1="280.0" y1="1514.5" x2="302.0" y2="1514.5" stroke="#000" stroke-width="3.3"/><text transform="translate(266.8,1529.9) scale(1,1.05)" font-size="54.8" text-anchor="end">110</text><line x1="290.0" y1="2575.8" x2="302.0" y2="2575.8" stroke="#000" stroke-width="3.3"/><line x1="290.0" y1="2382.8" x2="302.0" y2="2382.8" stroke="#000" stroke-width="3.3"/><line x1="290.0" y1="2189.9" x2="302.0" y2="2189.9" stroke="#000" stroke-width="3.3"/><line x1="290.0" y1="1996.9" x2="302.0" y2="1996.9" stroke="#000" stroke-width="3.3"/><line x1="290.0" y1="1803.9" x2="302.0" y2="1803.9" stroke="#000" stroke-width="3.3"/><line x1="290.0" y1="1611.0" x2="302.0" y2="1611.0" stroke="#000" stroke-width="3.3"/><text x="38.9" y="1540.7" font-size="78.9">(b)</text><text transform="translate(101.4,2283.7) rotate(-90)" font-size="59.8">% Transmittance</text><text x="964.6" y="2779.6" font-size="58.5">Wavenumbers (cm<tspan dy="-27.5">-1</tspan><tspan dx="4.3" dy="27.5">)</tspan></text></g>
<g><path d="M301.6,3218.3 L315.0,3222.7 L318.0,3221.6 L318.6,3222.3 L321.0,3224.4 L324.0,3223.4 L327.0,3226.4 L330.0,3225.3 L331.1,3226.3 L333.0,3228.1 L336.0,3226.2 L339.0,3227.9 L342.0,3226.7 L345.0,3230.1 L346.6,3228.5 L348.0,3227.7 L351.0,3232.4 L352.8,3233.2 L354.0,3231.9 L357.0,3233.9 L360.0,3230.2 L362.1,3230.7 L363.0,3232.2 L366.0,3230.7 L369.0,3233.7 L372.0,3231.2 L375.0,3235.5 L377.6,3234.7 L378.0,3235.1 L379.2,3239.4 L381.0,3238.7 L383.9,3232.5 L384.0,3231.0 L387.0,3234.5 L390.0,3233.2 L393.0,3236.5 L393.2,3235.7 L396.0,3232.7 L399.0,3234.5 L402.0,3229.9 L402.5,3231.6 L405.0,3235.5 L407.1,3236.9 L408.0,3234.2 L411.0,3234.1 L413.4,3230.1 L414.0,3229.7 L417.0,3230.7 L420.0,3228.3 L423.0,3232.2 L424.2,3230.7 L426.0,3231.2 L429.0,3235.9 L432.0,3236.1 L433.5,3238.8 L435.0,3238.5 L438.0,3232.4 L439.8,3232.5 L441.0,3234.2 L444.0,3232.6 L446.0,3233.2 L447.0,3234.2 L450.0,3229.3 L452.2,3229.4 L453.0,3231.0 L456.0,3228.5 L459.0,3230.3 L461.5,3230.1 L462.0,3229.2 L465.0,3233.3 L468.0,3234.6 L469.3,3236.3 L473.9,3237.6 L481.5,3263.2 L489.2,3324.5 L499.4,3401.2 L509.6,3467.7 L525.0,3554.6 L540.3,3631.3 L560.8,3718.3 L581.2,3800.1 L596.6,3861.4 L603.0,3876.0 L610.6,3882.2 L619.9,3872.9 L632.4,3856.3 L647.7,3825.6 L657.9,3784.7 L678.4,3738.7 L709.1,3697.8 L734.6,3662.0 L760.2,3623.7 L790.9,3582.8 L811.3,3559.7 L842.0,3512.7 L851.1,3522.4 L859.2,3556.4 L867.4,3556.4 L872.8,3579.5 L881.0,3609.3 L886.4,3574.0 L894.6,3538.7 L902.7,3521.0 L913.6,3526.5 L919.0,3536.0 L924.5,3500.7 L929.9,3476.2 L943.5,3451.7 L959.8,3438.2 L976.1,3428.6 L994.2,3420.5 L1053.9,3393.2 L1103.5,3370.8 L1168.1,3346.0 L1222.7,3326.1 L1262.5,3312.7 L1327.0,3281.4 L1376.7,3256.6 L1436.3,3226.8 L1440.0,3224.6 L1442.0,3221.1 L1444.0,3221.8 L1446.0,3217.8 L1448.0,3218.8 L1448.7,3216.9 L1450.0,3215.0 L1452.0,3215.8 L1454.0,3211.9 L1456.0,3212.9 L1458.0,3209.6 L1460.0,3209.7 L1461.1,3208.4 L1462.0,3206.3 L1464.0,3207.2 L1466.0,3203.9 L1468.0,3205.1 L1470.0,3201.2 L1472.0,3202.0 L1474.0,3198.4 L1476.0,3199.5 L1476.1,3198.5 L1478.0,3197.8 L1480.0,3198.8 L1482.0,3197.3 L1484.0,3198.7 L1486.0,3196.4 L1488.0,3198.7 L1490.0,3196.1 L1491.0,3197.0 L1492.0,3198.5 L1494.0,3197.7 L1496.0,3200.5 L1498.0,3200.1 L1499.9,3202.0 L1500.0,3203.5 L1510.8,3224.3 L1520.0,3267.1 L1524.1,3295.7 L1529.5,3339.1 L1533.6,3398.9 L1541.7,3477.7 L1547.2,3491.3 L1554.0,3515.8 L1560.8,3562.0 L1566.2,3616.3 L1575.0,3686.5 L1580.4,3707.2 L1585.9,3712.6 L1587.5,3710.0 L1600.0,3695.2 L1607.6,3682.2 L1615.1,3629.9 L1623.3,3567.4 L1631.4,3507.6 L1639.6,3485.9 L1646.4,3477.7 L1650.4,3475.0 L1658.6,3480.4 L1664.0,3513.0 L1670.8,3552.4 L1681.7,3572.8 L1691.2,3566.0 L1700.7,3557.9 L1706.1,3551.1 L1710.2,3574.2 L1715.7,3548.4 L1723.8,3515.8 L1732.0,3498.1 L1737.4,3492.7 L1745.5,3496.7 L1751.0,3484.5 L1759.1,3481.8 L1778.2,3484.5 L1789.0,3484.5 L1802.6,3479.1 L1817.6,3473.6 L1829.8,3479.1 L1840.7,3470.9 L1848.8,3485.9 L1855.6,3503.5 L1860.0,3505.9 L1869.9,3497.2 L1877.4,3494.8 L1884.8,3477.4 L1893.5,3440.1 L1903.5,3415.3 L1912.2,3353.2 L1920.8,3315.9 L1932.0,3276.2 L1942.0,3243.9 L1951.9,3221.6 L1960.6,3211.6 L1966.8,3211.6 L1976.7,3220.3 L1984.2,3226.5 L1989.1,3221.6 L1996.6,3217.1 L2004.0,3224.0 L2016.5,3243.9 L2020.0,3246.4 L2022.5,3246.4 L2025.0,3249.6 L2027.5,3248.8 L2028.9,3250.1 L2030.0,3251.4 L2032.5,3251.9 L2035.0,3256.4 L2035.1,3255.1 L2037.5,3252.5 L2040.0,3252.5 L2041.3,3250.1 L2042.5,3250.3 L2045.0,3253.5 L2047.5,3252.5 L2050.0,3255.1 L2050.0,3256.1 L2052.5,3253.6 L2055.0,3253.8 L2057.5,3250.8 L2060.0,3251.3 L2061.2,3250.1 L2062.5,3250.0 L2065.0,3251.9 L2067.5,3250.6 L2070.0,3253.6 L2071.1,3252.6 L2072.5,3252.2 L2075.0,3254.3 L2077.5,3252.2 L2080.0,3254.1 L2082.5,3252.8 L2085.0,3254.1 L2086.0,3253.8 L2087.5,3254.8 L2090.0,3259.1 L2092.5,3259.2 L2095.0,3263.6 L2095.9,3263.8 L2097.5,3261.0 L2099.7,3259.3 L2100.0,3259.9 L2102.5,3257.8 L2105.0,3259.8 L2107.5,3257.2 L2110.0,3259.3 L2110.8,3258.3 L2112.5,3258.2 L2115.0,3262.4 L2117.5,3261.6 L2120.0,3265.1 L2120.8,3265.0 L2122.5,3266.2 L2124.5,3270.7 L2125.0,3271.5 L2127.5,3269.8 L2130.0,3270.6 L2132.5,3269.5 L2135.0,3270.4 L2137.5,3268.9 L2140.0,3270.2 L2140.6,3269.2 L2142.5,3267.5 L2145.0,3267.9 L2147.5,3265.0 L2150.0,3265.4 L2150.6,3263.8 L2152.5,3259.9 L2155.0,3256.8 L2157.5,3251.5 L2158.0,3251.4 L2160.0,3249.1 L2168.0,3234.0 L2176.6,3231.0 L2180.4,3223.5 L2186.0,3223.5" fill="none" stroke="#353535" stroke-width="1.9" stroke-linejoin="round" stroke-linecap="round"/><path d="M301.6,3156.1 L331.1,3157.1 L377.6,3158.6 L408.7,3161.7 L439.8,3166.4 L461.5,3174.2 L480.1,3186.6 L498.8,3202.1 L500.0,3204.4 L502.3,3204.0 L504.5,3209.3 L506.8,3209.6 L509.1,3214.2 L511.2,3214.5 L511.4,3213.4 L513.6,3213.1 L514.3,3212.0 L515.9,3215.2 L517.4,3219.2 L518.2,3221.7 L520.5,3225.1 L522.7,3233.8 L523.0,3233.2 L525.0,3227.8 L526.1,3227.0 L527.3,3228.0 L529.5,3226.1 L531.4,3228.5 L531.8,3232.9 L534.1,3246.9 L534.5,3251.8 L536.4,3248.4 L538.6,3240.5 L539.1,3240.9 L540.9,3245.7 L543.2,3248.4 L545.3,3253.4 L545.5,3254.8 L547.7,3252.9 L550.0,3253.4 L550.0,3254.8 L552.3,3256.6 L554.5,3264.2 L556.2,3265.8 L556.8,3264.3 L559.1,3265.8 L560.9,3264.2 L561.4,3263.3 L563.6,3269.3 L565.9,3270.0 L567.1,3273.5 L568.2,3274.9 L570.5,3274.1 L572.7,3279.1 L575.0,3277.3 L576.4,3279.8 L577.3,3281.0 L579.5,3280.5 L581.8,3285.2 L584.1,3284.4 L584.2,3286.0 L586.4,3289.4 L588.6,3288.1 L590.4,3290.6 L590.9,3292.1 L593.2,3290.8 L595.5,3295.3 L597.7,3294.3 L599.7,3296.8 L600.0,3298.1 L611.9,3293.9 L632.4,3278.5 L657.9,3253.0 L683.5,3232.5 L709.1,3219.7 L744.8,3201.8 L780.6,3189.0 L811.3,3183.9 L842.0,3180.3 L862.5,3185.4 L872.0,3188.0 L880.4,3194.1 L893.1,3183.9 L913.6,3178.8 L921.2,3181.4 L928.9,3171.1 L954.5,3166.0 L1000.0,3163.5 L1029.0,3159.7 L1103.5,3155.8 L1168.1,3151.3 L1232.7,3150.8 L1252.5,3145.8 L1292.3,3140.9 L1300.0,3141.0 L1302.3,3139.5 L1304.5,3141.2 L1306.8,3138.8 L1309.0,3141.2 L1311.3,3139.1 L1313.6,3141.5 L1315.8,3138.4 L1318.1,3140.6 L1320.3,3138.2 L1322.6,3140.3 L1324.9,3138.3 L1327.1,3140.2 L1329.4,3138.0 L1331.7,3140.8 L1333.9,3137.7 L1336.2,3140.5 L1338.4,3137.9 L1340.7,3140.3 L1343.0,3137.6 L1345.2,3139.3 L1347.5,3137.5 L1349.7,3139.8 L1352.0,3137.7 L1354.3,3139.4 L1356.5,3137.1 L1358.8,3139.2 L1361.0,3136.7 L1363.3,3138.7 L1365.6,3137.1 L1367.8,3139.2 L1370.1,3136.8 L1372.3,3138.0 L1374.6,3136.8 L1376.7,3137.4 L1376.9,3138.0 L1379.1,3136.4 L1381.4,3137.2 L1383.7,3134.7 L1385.9,3137.0 L1388.2,3134.5 L1390.4,3135.3 L1392.7,3133.7 L1395.0,3134.9 L1397.2,3131.7 L1399.5,3133.2 L1401.6,3132.4 L1401.7,3131.7 L1404.0,3133.5 L1406.3,3132.4 L1408.5,3134.7 L1410.8,3132.5 L1413.0,3134.4 L1415.3,3132.9 L1417.6,3135.2 L1419.8,3133.3 L1422.1,3135.2 L1424.3,3134.0 L1426.4,3134.9 L1426.6,3135.8 L1428.9,3133.9 L1431.1,3136.3 L1433.4,3134.2 L1435.7,3137.5 L1437.9,3135.6 L1440.2,3137.3 L1442.4,3135.6 L1444.7,3138.7 L1446.3,3137.4 L1447.0,3136.8 L1449.2,3140.5 L1451.2,3140.9 L1451.5,3139.2 L1453.7,3139.8 L1456.0,3134.7 L1456.2,3135.9 L1458.3,3137.7 L1460.5,3136.9 L1462.8,3140.0 L1463.6,3139.9 L1465.0,3138.9 L1467.3,3139.9 L1469.6,3137.0 L1471.8,3137.2 L1474.1,3134.6 L1476.1,3134.9 L1476.3,3136.4 L1478.6,3134.4 L1480.9,3137.0 L1483.1,3135.0 L1485.4,3137.9 L1487.7,3135.4 L1489.9,3138.4 L1491.0,3137.4 L1492.2,3135.3 L1494.4,3135.2 L1496.7,3131.4 L1498.4,3130.9 L1499.0,3132.1 L1501.2,3132.1 L1503.5,3136.6 L1505.7,3136.3 L1505.9,3137.4 L1508.0,3136.3 L1510.3,3133.0 L1512.5,3132.4 L1513.4,3130.9 L1514.8,3131.4 L1517.0,3135.3 L1519.3,3136.7 L1520.0,3138.0 L1521.6,3136.0 L1523.8,3129.6 L1525.4,3127.2 L1526.1,3130.2 L1528.3,3134.2 L1530.6,3142.2 L1530.9,3142.1 L1532.9,3137.2 L1534.9,3134.0 L1535.1,3135.6 L1537.4,3140.7 L1539.7,3149.5 L1540.4,3150.3 L1541.9,3146.4 L1544.2,3143.4 L1544.5,3142.1 L1546.4,3149.5 L1548.5,3158.4 L1548.7,3159.6 L1551.0,3154.6 L1552.6,3154.3 L1553.2,3157.1 L1555.5,3160.6 L1556.7,3165.2 L1557.7,3167.0 L1560.0,3166.6 L1560.0,3168.3 L1562.1,3169.3 L1562.3,3168.5 L1564.5,3185.5 L1566.2,3193.8 L1566.8,3193.5 L1569.0,3199.7 L1571.3,3201.7 L1573.0,3206.0 L1573.5,3207.8 L1575.8,3204.5 L1577.1,3206.0 L1578.1,3208.0 L1580.3,3207.5 L1582.5,3210.1 L1582.6,3211.2 L1584.8,3208.1 L1586.6,3208.7 L1587.1,3209.9 L1589.4,3202.9 L1590.7,3201.9 L1591.6,3203.2 L1593.9,3201.9 L1596.1,3204.4 L1598.4,3202.6 L1600.6,3205.5 L1601.5,3204.6 L1602.9,3204.7 L1605.2,3211.1 L1607.0,3212.8 L1607.4,3211.3 L1609.7,3214.1 L1611.9,3212.3 L1612.4,3214.1 L1614.2,3220.6 L1616.5,3225.2 L1616.5,3226.4 L1618.7,3218.6 L1620.5,3210.1 L1621.0,3210.9 L1623.2,3221.7 L1624.6,3226.4 L1625.5,3222.5 L1627.7,3215.9 L1628.7,3211.4 L1630.0,3212.1 L1632.3,3217.6 L1634.1,3219.6 L1634.5,3217.9 L1636.8,3216.8 L1639.0,3210.2 L1639.6,3210.1 L1641.3,3216.2 L1643.5,3219.4 L1643.6,3220.9 L1645.8,3217.1 L1647.7,3210.1 L1648.1,3209.8 L1650.3,3214.3 L1652.6,3214.2 L1653.2,3215.5 L1654.8,3214.6 L1657.1,3210.2 L1658.6,3210.1 L1659.4,3212.9 L1661.6,3215.1 L1663.9,3224.0 L1664.0,3222.3 L1666.1,3223.8 L1668.4,3231.0 L1670.6,3231.9 L1670.8,3233.2 L1672.9,3230.2 L1675.2,3224.5 L1676.3,3223.6 L1677.4,3224.9 L1679.7,3224.7 L1681.9,3228.5 L1683.0,3227.7 L1684.2,3227.6 L1686.5,3232.1 L1688.7,3231.2 L1691.0,3234.6 L1691.2,3233.7 L1693.2,3229.6 L1695.5,3229.4 L1696.6,3226.4 L1697.7,3225.3 L1700.0,3228.8 L1702.3,3227.0 L1704.5,3232.1 L1704.8,3230.4 L1706.8,3227.3 L1709.0,3229.6 L1710.2,3227.7 L1711.3,3225.2 L1713.5,3227.1 L1715.8,3223.1 L1718.1,3224.5 L1720.3,3219.8 L1721.1,3220.9 L1722.6,3222.2 L1724.8,3218.5 L1727.1,3219.7 L1729.2,3217.4 L1729.4,3216.9 L1731.6,3221.8 L1733.9,3220.5 L1736.0,3223.6 L1736.1,3224.2 L1738.4,3219.8 L1740.1,3219.6 L1740.6,3221.7 L1742.9,3222.4 L1745.2,3228.2 L1745.5,3226.4 L1747.4,3224.6 L1749.7,3228.3 L1751.9,3225.6 L1754.2,3227.4 L1756.4,3226.4 L1756.5,3225.5 L1758.7,3228.9 L1761.0,3227.0 L1763.2,3231.3 L1765.5,3229.1 L1767.7,3232.7 L1770.0,3230.2 L1770.0,3231.8 L1789.0,3246.7 L1810.8,3265.8 L1821.6,3276.6 L1832.5,3292.9 L1846.2,3306.5 L1860.0,3320.9 L1879.9,3339.5 L1892.3,3334.6 L1903.5,3327.1 L1912.2,3313.5 L1927.1,3266.3 L1942.0,3239.0 L1954.4,3221.6 L1966.8,3212.9 L1978.0,3207.9 L1984.2,3210.4 L1995.4,3193.7 L2009.0,3194.7 L2016.5,3194.7 L2026.4,3200.5 L2033.8,3199.7 L2042.5,3193.7 L2058.7,3189.3 L2066.1,3188.8 L2076.1,3185.5 L2088.5,3191.8 L2093.5,3190.5 L2095.4,3204.2 L2098.9,3183.1 L2103.4,3181.8 L2112.1,3171.4 L2118.3,3170.6 L2123.3,3174.4 L2135.7,3169.9 L2150.6,3167.4 L2160.5,3159.5 L2170.4,3146.6 L2180.4,3152.0 L2186.3,3165.7" fill="none" stroke="#df4040" stroke-width="1.9" stroke-linejoin="round" stroke-linecap="round"/><line x1="608.4" y1="3142.4" x2="608.4" y2="3964" stroke="#4e4e4e" stroke-width="2.3" stroke-dasharray="2.8 5.70"/><line x1="884" y1="3148" x2="884" y2="3809" stroke="#4e4e4e" stroke-width="2.3" stroke-dasharray="2.8 5.70"/><line x1="917.9" y1="3405.6" x2="917.9" y2="3810" stroke="#4e4e4e" stroke-width="2.3" stroke-dasharray="2.8 5.70"/><line x1="1586.8" y1="3072.5" x2="1586.8" y2="3893.6" stroke="#4e4e4e" stroke-width="2.3" stroke-dasharray="2.8 5.70"/><line x1="1679.8" y1="3438.3" x2="1679.8" y2="3712.8" stroke="#4e4e4e" stroke-width="2.3" stroke-dasharray="2.8 5.70"/><line x1="1712.4" y1="3472.3" x2="1712.4" y2="3746.7" stroke="#4e4e4e" stroke-width="2.3" stroke-dasharray="2.8 5.70"/><line x1="1861" y1="3396.2" x2="1861" y2="3670.7" stroke="#4e4e4e" stroke-width="2.3" stroke-dasharray="2.8 5.70"/><text transform="translate(669.2,3715.0) rotate(-90) scale(1,1.05)" font-size="40.9">3423.66</text><text transform="translate(851.6,3790.0) rotate(-90) scale(1,1.05)" font-size="41.1">2921.87</text><text transform="translate(972.2,3787.1) rotate(-90) scale(1,1.05)" font-size="41.5">2851.95</text><text transform="translate(1555.1,3872.8) rotate(-90) scale(1,1.05)" font-size="40.6">1614.73</text><text transform="translate(1687.4,3429.2) rotate(-90) scale(1,1.05)" font-size="40.3">1434.74</text><text transform="translate(1755.4,3446.9) rotate(-90) scale(1,1.05)" font-size="40.3">1384.14</text><text transform="translate(1830.2,3709.1) rotate(-90) scale(1,1.05)" font-size="40.4">1102.93</text><rect x="300.3" y="2973.0" width="1886.7" height="1037.0" fill="none" stroke="#000" stroke-width="3.4"/><line x1="300.3" y1="4010.0" x2="300.3" y2="4031.0" stroke="#000" stroke-width="3.3"/><text transform="translate(300.3,4086.2) scale(1,1.05)" font-size="54.8" text-anchor="middle">4000</text><line x1="435.1" y1="4010.0" x2="435.1" y2="4021.0" stroke="#000" stroke-width="3.3"/><line x1="569.8" y1="4010.0" x2="569.8" y2="4031.0" stroke="#000" stroke-width="3.3"/><text transform="translate(569.8,4086.2) scale(1,1.05)" font-size="54.8" text-anchor="middle">3500</text><line x1="704.6" y1="4010.0" x2="704.6" y2="4021.0" stroke="#000" stroke-width="3.3"/><line x1="839.4" y1="4010.0" x2="839.4" y2="4031.0" stroke="#000" stroke-width="3.3"/><text transform="translate(839.4,4086.2) scale(1,1.05)" font-size="54.8" text-anchor="middle">3000</text><line x1="974.1" y1="4010.0" x2="974.1" y2="4021.0" stroke="#000" stroke-width="3.3"/><line x1="1108.9" y1="4010.0" x2="1108.9" y2="4031.0" stroke="#000" stroke-width="3.3"/><text transform="translate(1108.9,4086.2) scale(1,1.05)" font-size="54.8" text-anchor="middle">2500</text><line x1="1243.7" y1="4010.0" x2="1243.7" y2="4021.0" stroke="#000" stroke-width="3.3"/><line x1="1378.4" y1="4010.0" x2="1378.4" y2="4031.0" stroke="#000" stroke-width="3.3"/><text transform="translate(1378.4,4086.2) scale(1,1.05)" font-size="54.8" text-anchor="middle">2000</text><line x1="1513.2" y1="4010.0" x2="1513.2" y2="4021.0" stroke="#000" stroke-width="3.3"/><line x1="1647.9" y1="4010.0" x2="1647.9" y2="4031.0" stroke="#000" stroke-width="3.3"/><text transform="translate(1647.9,4086.2) scale(1,1.05)" font-size="54.8" text-anchor="middle">1500</text><line x1="1782.7" y1="4010.0" x2="1782.7" y2="4021.0" stroke="#000" stroke-width="3.3"/><line x1="1917.5" y1="4010.0" x2="1917.5" y2="4031.0" stroke="#000" stroke-width="3.3"/><text transform="translate(1917.5,4086.2) scale(1,1.05)" font-size="54.8" text-anchor="middle">1000</text><line x1="2052.2" y1="4010.0" x2="2052.2" y2="4021.0" stroke="#000" stroke-width="3.3"/><line x1="2187.0" y1="4010.0" x2="2187.0" y2="4031.0" stroke="#000" stroke-width="3.3"/><text transform="translate(2187.0,4086.2) scale(1,1.05)" font-size="54.8" text-anchor="middle">500</text><line x1="278.3" y1="3915.7" x2="300.3" y2="3915.7" stroke="#000" stroke-width="3.3"/><text transform="translate(265.1,3931.1) scale(1,1.05)" font-size="54.8" text-anchor="end">60</text><line x1="278.3" y1="3727.2" x2="300.3" y2="3727.2" stroke="#000" stroke-width="3.3"/><text transform="translate(265.1,3742.6) scale(1,1.05)" font-size="54.8" text-anchor="end">70</text><line x1="278.3" y1="3538.6" x2="300.3" y2="3538.6" stroke="#000" stroke-width="3.3"/><text transform="translate(265.1,3554.0) scale(1,1.05)" font-size="54.8" text-anchor="end">80</text><line x1="278.3" y1="3350.1" x2="300.3" y2="3350.1" stroke="#000" stroke-width="3.3"/><text transform="translate(265.1,3365.5) scale(1,1.05)" font-size="54.8" text-anchor="end">90</text><line x1="278.3" y1="3161.5" x2="300.3" y2="3161.5" stroke="#000" stroke-width="3.3"/><text transform="translate(265.1,3176.9) scale(1,1.05)" font-size="54.8" text-anchor="end">100</text><line x1="278.3" y1="2973.0" x2="300.3" y2="2973.0" stroke="#000" stroke-width="3.3"/><text transform="translate(265.1,2988.4) scale(1,1.05)" font-size="54.8" text-anchor="end">110</text><line x1="288.3" y1="4010.0" x2="300.3" y2="4010.0" stroke="#000" stroke-width="3.3"/><line x1="288.3" y1="3821.5" x2="300.3" y2="3821.5" stroke="#000" stroke-width="3.3"/><line x1="288.3" y1="3632.9" x2="300.3" y2="3632.9" stroke="#000" stroke-width="3.3"/><line x1="288.3" y1="3444.4" x2="300.3" y2="3444.4" stroke="#000" stroke-width="3.3"/><line x1="288.3" y1="3255.8" x2="300.3" y2="3255.8" stroke="#000" stroke-width="3.3"/><line x1="288.3" y1="3067.3" x2="300.3" y2="3067.3" stroke="#000" stroke-width="3.3"/><text x="37.8" y="2989.7" font-size="78.9">(c)</text><text transform="translate(99.0,3726.1) rotate(-90)" font-size="58.7">% Transmittance</text><text x="962.3" y="4209.3" font-size="58.5">Wavenumbers (cm<tspan dy="-27.5">-1</tspan><tspan dx="4.3" dy="27.5">)</tspan></text></g>
<line x1="323.3" y1="125.6" x2="434.2" y2="125.6" stroke="#333" stroke-width="2.2"/>
<text x="446.5" y="141.8" font-size="48.9" font-weight="bold">HW400</text>
<line x1="323.3" y1="187.6" x2="434.2" y2="187.6" stroke="#e03a3a" stroke-width="2.2"/>
<text x="446.5" y="203.3" font-size="48.9" font-weight="bold">HW700</text>
<line x1="341" y1="1567.9" x2="453.7" y2="1567.9" stroke="#333" stroke-width="2.2"/>
<text x="466.4" y="1584.7" font-size="48.6" font-weight="bold">CC400</text>
<line x1="341" y1="1631.7" x2="453.7" y2="1631.7" stroke="#e56060" stroke-width="2.2"/>
<text x="466.4" y="1647.2" font-size="48.6" font-weight="bold">CC700</text>
<line x1="353.9" y1="3013.5" x2="466.8" y2="3013.5" stroke="#333" stroke-width="2.2"/>
<text x="480.1" y="3029.7" font-size="48.4" font-weight="bold">WS400</text>
<line x1="353.9" y1="3075.7" x2="466.8" y2="3075.7" stroke="#e56060" stroke-width="2.2"/>
<text x="480.1" y="3092.1" font-size="48.4" font-weight="bold">WS700</text>
</svg></body></html>
